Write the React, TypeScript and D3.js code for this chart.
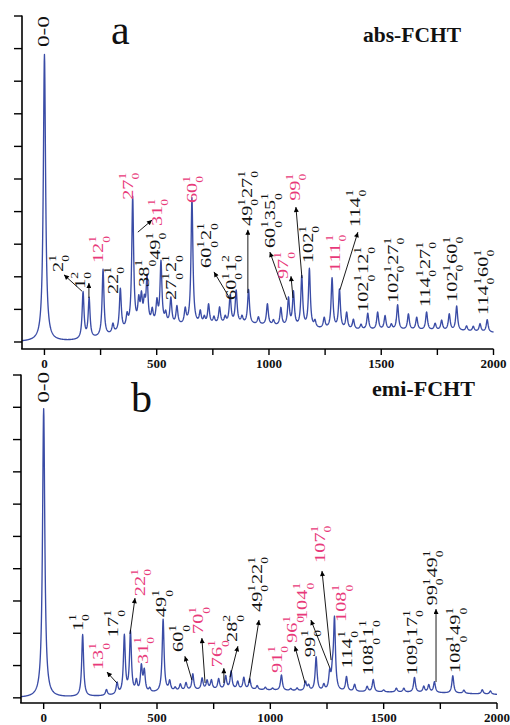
import * as d3 from 'd3'

const PINK = '#e8397a'
const BLUE = '#3a4ca6'
const SERIF = '"Liberation Serif", "Times New Roman", serif'

// wavenumber axis (cm-1), intensity in tick units (ten ticks up to 100)
const xTicks = [0, 500, 1000, 1500, 2000]
const xMinorTicks = [250, 750, 1250, 1750]
const yTicks = [0, 10, 20, 30, 40, 50, 60, 70, 80, 90, 100]

// panel a, abs-FCHT: band positions and heights
const absPeakPos = [0, 172, 199, 261, 305, 338, 368, 393, 420, 432, 445, 457, 480, 501, 519, 540, 563, 590, 627, 657, 694, 712, 731, 755, 780, 805, 827, 854, 880, 909, 953, 993, 1020, 1053, 1087, 1109, 1146, 1180, 1205, 1246, 1281, 1314, 1346, 1376, 1410, 1440, 1484, 1517, 1545, 1573, 1621, 1658, 1702, 1740, 1769, 1803, 1836, 1880, 1910, 1940, 1972]
const absPeakInt = [88, 14.3, 12.2, 20.5, 2.8, 13, 3.7, 40, 7, 8, 6, 14, 4, 6.5, 19, 3, 8, 5.5, 4.5, 39, 3.8, 2, 6, 2, 5, 2, 8.5, 10, 2, 10.5, 2.2, 6.5, 1.5, 5.5, 8.5, 10.5, 15.5, 18, 2, 3.2, 15.5, 12, 5, 3, 1.5, 5, 5.3, 4.2, 1.5, 7.6, 4.8, 3.8, 5.5, 2, 3, 5, 7.5, 1.5, 1.5, 2.4, 3.8]
const absBandPos = [450, 800, 1600]
const absBandInt = [2.6, 3.8, 3.6]
const absBandWidth = [120, 250, 600]

// panel b, emi-FCHT
const emiPeakPos = [0, 172, 277, 324, 356, 383, 409, 431, 444, 468, 527, 556, 580, 603, 628, 658, 699, 721, 740, 772, 803, 827, 856, 883, 909, 942, 978, 1010, 1049, 1090, 1118, 1155, 1169, 1202, 1236, 1262, 1274, 1283, 1336, 1372, 1427, 1454, 1500, 1556, 1589, 1636, 1677, 1699, 1724, 1805, 1854, 1935, 1971]
const emiPeakInt = [89.5, 19.2, 1.8, 3.5, 18, 19, 3.5, 8, 6.5, 1.2, 22.5, 3, 1, 2, 2.3, 5, 3.5, 2.7, 2.8, 3.2, 4, 5.5, 2.3, 3.6, 3.2, 1.2, 0.8, 0.6, 4.8, 0.6, 0.8, 2.8, 1.6, 10.5, 1.8, 5.2, 4.5, 22, 4.5, 2.2, 1.6, 3.8, 0.6, 1.2, 1.2, 4.6, 1.8, 2.3, 3.3, 5.4, 1, 1.3, 1]
const emiBandPos = [750, 1500]
const emiBandInt = [1.9, 1.7]
const emiBandWidth = [280, 500]

type Part = [string, string, string]
type Label = { t: Part[]; x: number; y: number; pink?: boolean; arrow?: [number, number, number, number] }

const absLabels: Label[] = [
  { t: [['0-0', '', '']], x: 20, y: 90.5 },
  { t: [['2', '1', '0']], x: 82, y: 21.5, arrow: [167, 15.6, 87, 20.6] },
  { t: [['1', '2', '0']], x: 180, y: 16.3, arrow: [198, 13.5, 198, 18.1] },
  { t: [['12', '1', '0']], x: 261, y: 24.2, pink: true },
  { t: [['22', '1', '0']], x: 327, y: 14.7 },
  { t: [['27', '1', '0']], x: 394, y: 43.6, pink: true },
  { t: [['31', '1', '0']], x: 523, y: 35.6, pink: true, arrow: [416, 33.7, 479, 37.4] },
  { t: [['38', '1', '0']], x: 466, y: 16.9 },
  { t: [['49', '1', '0']], x: 514, y: 25.2 },
  { t: [['27', '1', '0'], ['2', '1', '0']], x: 586, y: 12.9 },
  { t: [['60', '1', '0']], x: 679, y: 42.6, pink: true },
  { t: [['60', '1', '0'], ['2', '1', '0']], x: 742, y: 22.7, arrow: [822, 13.8, 755, 21.5] },
  { t: [['60', '1', '0'], ['1', '2', '0']], x: 853, y: 12.9 },
  { t: [['49', '1', '0'], ['27', '1', '0']], x: 924, y: 35.6, arrow: [906, 15, 906, 34.4] },
  { t: [['60', '1', '0'], ['35', '1', '0']], x: 1027, y: 28.8, arrow: [1080, 12.9, 1004, 27.6] },
  { t: [['97', '1', '0']], x: 1085, y: 19.3, pink: true, arrow: [1107, 13.5, 1098, 20.2] },
  { t: [['99', '1', '0']], x: 1138, y: 43.3, pink: true, arrow: [1147, 19.6, 1120, 41.4] },
  { t: [['102', '1', '0']], x: 1196, y: 24.2 },
  { t: [['111', '1', '0']], x: 1316, y: 21.5, pink: true },
  { t: [['114', '1', '0']], x: 1405, y: 35.3, arrow: [1316, 16, 1396, 33.7] },
  { t: [['102', '1', '0'], ['12', '1', '0']], x: 1441, y: 9.2 },
  { t: [['102', '1', '0'], ['27', '1', '0']], x: 1574, y: 12 },
  { t: [['114', '1', '0'], ['27', '1', '0']], x: 1717, y: 10.7 },
  { t: [['102', '1', '0'], ['60', '1', '0']], x: 1837, y: 12.3 },
  { t: [['114', '1', '0'], ['60', '1', '0']], x: 1975, y: 8.3 },
]

const emiLabels: Label[] = [
  { t: [['0-0', '', '']], x: 23, y: 91.4 },
  { t: [['1', '1', '0']], x: 173, y: 20.7 },
  { t: [['13', '1', '0']], x: 262, y: 8.6, pink: true, arrow: [323, 4.6, 279, 8] },
  { t: [['17', '1', '0']], x: 328, y: 18.8 },
  { t: [['22', '1', '0']], x: 447, y: 31.5, pink: true, arrow: [381, 19.8, 403, 30.9] },
  { t: [['31', '1', '0']], x: 460, y: 10.5, pink: true },
  { t: [['49', '1', '0']], x: 540, y: 25 },
  { t: [['60', '1', '0']], x: 615, y: 14.2, arrow: [654, 5.5, 623, 12.9] },
  { t: [['70', '1', '0']], x: 703, y: 19.8, pink: true, arrow: [712, 4.6, 698, 18.5] },
  { t: [['76', '1', '0']], x: 787, y: 9.5, pink: true, arrow: [795, 4.6, 795, 9.2] },
  { t: [['28', '2', '0']], x: 853, y: 17.3, arrow: [822, 6.4, 857, 16] },
  { t: [['49', '1', '0'], ['22', '1', '0']], x: 963, y: 26.6, arrow: [906, 4.6, 950, 24.1] },
  { t: [['91', '1', '0']], x: 1051, y: 7.7, pink: true },
  { t: [['96', '1', '0']], x: 1118, y: 17, pink: true, arrow: [1153, 4.6, 1108, 16] },
  { t: [['99', '1', '0']], x: 1197, y: 12.6 },
  { t: [['104', '1', '0']], x: 1162, y: 24.1, pink: true, arrow: [1263, 9.2, 1179, 24.1] },
  { t: [['107', '1', '0']], x: 1241, y: 41.8, pink: true, arrow: [1268, 11.7, 1228, 39.3] },
  { t: [['108', '1', '0']], x: 1334, y: 23.5, pink: true },
  { t: [['114', '1', '0']], x: 1360, y: 9.2 },
  { t: [['108', '1', '0'], ['1', '1', '0']], x: 1453, y: 7 },
  { t: [['109', '1', '0'], ['17', '1', '0']], x: 1647, y: 7 },
  { t: [['99', '1', '0'], ['49', '1', '0']], x: 1735, y: 28.6, arrow: [1731, 4.9, 1731, 27.5] },
  { t: [['108', '1', '0'], ['49', '1', '0']], x: 1837, y: 7.7 },
]

// broadened stick spectrum: Lorentzian bands plus a few broad envelopes
const spectrum = (pos: number[], amp: number[], bPos: number[], bAmp: number[], bW: number[]) =>
  d3.range(-100, 2000.5, 1).map(x => {
    let v = 0
    pos.forEach((p, i) => {
      const d = (x - p) / (p === 0 ? 6 : 5)
      v += amp[i] / (1 + d * d)
    })
    bPos.forEach((c, i) => {
      const d = (x - c) / bW[i]
      v += bAmp[i] * Math.exp(-0.5 * d * d)
    })
    return [x, v] as [number, number]
  })

const textWidth = (s: string, fs: number) =>
  s.split('').reduce((w, ch) => w + (ch === '-' ? 0.333 : 0.5) * fs, 0)

const LabelText = ({ label, sx, sy }: { label: Label; sx: any; sy: any }) => {
  const fss = 9.5
  let cx = 0
  const spans: any[] = []
  label.t.forEach(([n, sup, sub], i) => {
    const fs = n === '0-0' ? 16 : 14
    spans.push(<tspan key={`n${i}`} x={cx} y={0} fontSize={fs}>{n}</tspan>)
    cx += textWidth(n, fs)
    if (sup || sub) {
      spans.push(<tspan key={`p${i}`} x={cx} y={-7} fontSize={fss}>{sup}</tspan>)
      spans.push(<tspan key={`b${i}`} x={cx} y={6.5} fontSize={fss}>{sub}</tspan>)
      cx += Math.max(sup.length, sub.length) * fss * 0.5 + 0.5
    }
  })
  return (
    <text
      transform={`translate(${sx(label.x)},${sy(label.y)}) scale(1,1.45) rotate(-90)`}
      fill={label.pink ? PINK : '#111'}
      fontFamily={SERIF}
    >
      {spans}
    </text>
  )
}

const Panel = ({ sx, sy, data, labels, letter, letterPos, name, namePos, nameLen }: any) => {
  const line = d3
    .line<[number, number]>()
    .x(d => sx(d[0]))
    .y(d => sy(d[1]))
  const [x0, x1] = sx.range()
  const [yb, yt] = sy.range()
  return (
    <g>
      <path d={line(data) ?? ''} fill="none" stroke={BLUE} strokeWidth={1.35} strokeLinejoin="round" />
      {labels.map((l: Label, i: number) =>
        l.arrow ? (
          <line
            key={`a${i}`}
            x1={sx(l.arrow[0])}
            y1={sy(l.arrow[1])}
            x2={sx(l.arrow[2])}
            y2={sy(l.arrow[3])}
            stroke="#000"
            strokeWidth={0.9}
            markerEnd="url(#head)"
          />
        ) : null
      )}
      {labels.map((l: Label, i: number) => (
        <LabelText key={`l${i}`} label={l} sx={sx} sy={sy} />
      ))}
      <line x1={x0} x2={x0} y1={yb} y2={yt - 0.5} stroke="#000" strokeWidth={1.6} />
      <line x1={x0 - 0.8} x2={x1} y1={yb} y2={yb} stroke="#000" strokeWidth={1.6} />
      {yTicks.map(t => (
        <line key={`y${t}`} x1={x0 - 8} x2={x0} y1={sy(t)} y2={sy(t)} stroke="#000" strokeWidth={1.4} />
      ))}
      {[...xTicks, ...xMinorTicks].map(t => (
        <line key={`x${t}`} x1={sx(t)} x2={sx(t)} y1={yb} y2={yb + 6} stroke="#000" strokeWidth={1.4} />
      ))}
      {xTicks.map(t => (
        <text
          key={`xl${t}`}
          x={sx(t)}
          y={yb + 19}
          textAnchor="middle"
          fontFamily={SERIF}
          fontWeight="bold"
          fontSize={13}
          fill="#111"
        >
          {t}
        </text>
      ))}
      <text x={letterPos[0]} y={letterPos[1]} fontFamily={SERIF} fontSize={42} fill="#111">
        {letter}
      </text>
      <text
        x={namePos[0]}
        y={namePos[1]}
        fontFamily={SERIF}
        fontWeight="bold"
        fontSize={20}
        textLength={nameLen}
        lengthAdjust="spacingAndGlyphs"
        fill="#111"
      >
        {name}
      </text>
    </g>
  )
}

export default function App() {
  const sxA = d3.scaleLinear().domain([-100, 2000]).range([22, 493.5])
  const syA = d3.scaleLinear().domain([-2.15, 100]).range([349, 16])
  const sxB = d3.scaleLinear().domain([-100, 2000]).range([21, 497])
  const syB = d3.scaleLinear().domain([-1.6, 100]).range([703, 375])
  const absData = spectrum(absPeakPos, absPeakInt, absBandPos, absBandInt, absBandWidth)
  const emiData = spectrum(emiPeakPos, emiPeakInt, emiBandPos, emiBandInt, emiBandWidth)

  return (
    <svg
      width={510}
      height={725}
      viewBox="0 0 510 725"
      style={{ position: 'absolute', left: 0, top: 0, background: '#fff' }}
    >
      <defs>
        <marker
          id="head"
          viewBox="0 0 10 10"
          refX="10"
          refY="5"
          markerWidth="7"
          markerHeight="5"
          markerUnits="userSpaceOnUse"
          orient="auto"
        >
          <path d="M0,0 L10,5 L0,10 Z" fill="#000" />
        </marker>
      </defs>
      <Panel
        sx={sxA}
        sy={syA}
        data={absData}
        labels={absLabels}
        letter="a"
        letterPos={[111, 44]}
        name="abs-FCHT"
        namePos={[363, 42]}
        nameLen={98}
      />
      <Panel
        sx={sxB}
        sy={syB}
        data={emiData}
        labels={emiLabels}
        letter="b"
        letterPos={[131, 412]}
        name="emi-FCHT"
        namePos={[372, 396]}
        nameLen={103}
      />
    </svg>
  )
}
